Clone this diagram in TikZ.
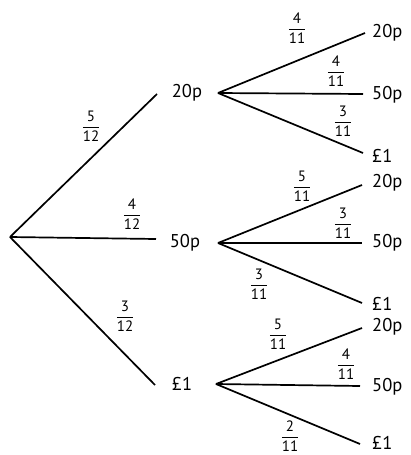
\documentclass[tikz,border=0pt]{standalone}
\usepackage{fontspec}
\setmainfont{PT Sans}
\newcommand{\fr}[2]{$\displaystyle\frac{\mbox{#1}}{\mbox{#2}}$}
\tikzset{
  br/.style={line width=1.7pt},
  lab/.style={font=\fontsize{18.5}{20}\selectfont, inner sep=0pt},
  frac/.style={font=\fontsize{15}{17}\selectfont, inner sep=0pt}
}
\begin{document}
\begin{tikzpicture}[x=1pt,y=-1pt]
\useasboundingbox (0,0) rectangle (411,455);
% root and first level
\coordinate (r) at (10,237);
\coordinate (a) at (157,94);
\coordinate (b) at (156,239);
\coordinate (c) at (155,385);
\node[lab] (A) at (187,93) {20p};
\node[lab] (B) at (185,243) {50p};
\node[lab] (C) at (182,384) {£1};
\draw[br] (r) -- (a);
\draw[br] (r) -- (b);
\draw[br] (r) -- (c);
\node[frac] (fa) at (91,126) {\fr{5}{12}};
\node[frac] (fb) at (132,214) {\fr{4}{12}};
\node[frac] (fc) at (125,316) {\fr{3}{12}};
% second level from 20p
\coordinate (a0) at (218,93);
\coordinate (a1) at (365,33);
\coordinate (a2) at (363,94);
\coordinate (a3) at (363,153);
\draw[br] (a0) -- (a1);
\draw[br] (a0) -- (a2);
\draw[br] (a0) -- (a3);
\node[lab,anchor=west] (A1) at (372,33) {20p};
\node[lab,anchor=west] (A2) at (372,95) {50p};
\node[lab,anchor=west] (A3) at (372,156) {£1};
\node[frac] (fa1) at (297,28) {\fr{4}{11}};
\node[frac] (fa2) at (336,71) {\fr{4}{11}};
\node[frac] (fa3) at (343,121) {\fr{3}{11}};
% second level from 50p
\coordinate (b0) at (218,243);
\coordinate (b1) at (362,185);
\coordinate (b2) at (362,243);
\coordinate (b3) at (362,303);
\draw[br] (b0) -- (b1);
\draw[br] (b0) -- (b2);
\draw[br] (b0) -- (b3);
\node[lab,anchor=west] (B1) at (372,183) {20p};
\node[lab,anchor=west] (B2) at (372,243) {50p};
\node[lab,anchor=west] (B3) at (372,304) {£1};
\node[frac] (fb1) at (302,186) {\fr{5}{11}};
\node[frac] (fb2) at (343,223) {\fr{3}{11}};
\node[frac] (fb3) at (259,284) {\fr{3}{11}};
% second level from £1
\coordinate (c0) at (216,384);
\coordinate (c1) at (362,328);
\coordinate (c2) at (360,386);
\coordinate (c3) at (360,444);
\draw[br] (c0) -- (c1);
\draw[br] (c0) -- (c2);
\draw[br] (c0) -- (c3);
\node[lab,anchor=west] (C1) at (372,327) {20p};
\node[lab,anchor=west] (C2) at (372,387) {50p};
\node[lab,anchor=west] (C3) at (372,443) {£1};
\node[frac] (fc1) at (278,334) {\fr{5}{11}};
\node[frac] (fc2) at (346,364) {\fr{4}{11}};
\node[frac] (fc3) at (290,436) {\fr{2}{11}};
\end{tikzpicture}
\end{document}
